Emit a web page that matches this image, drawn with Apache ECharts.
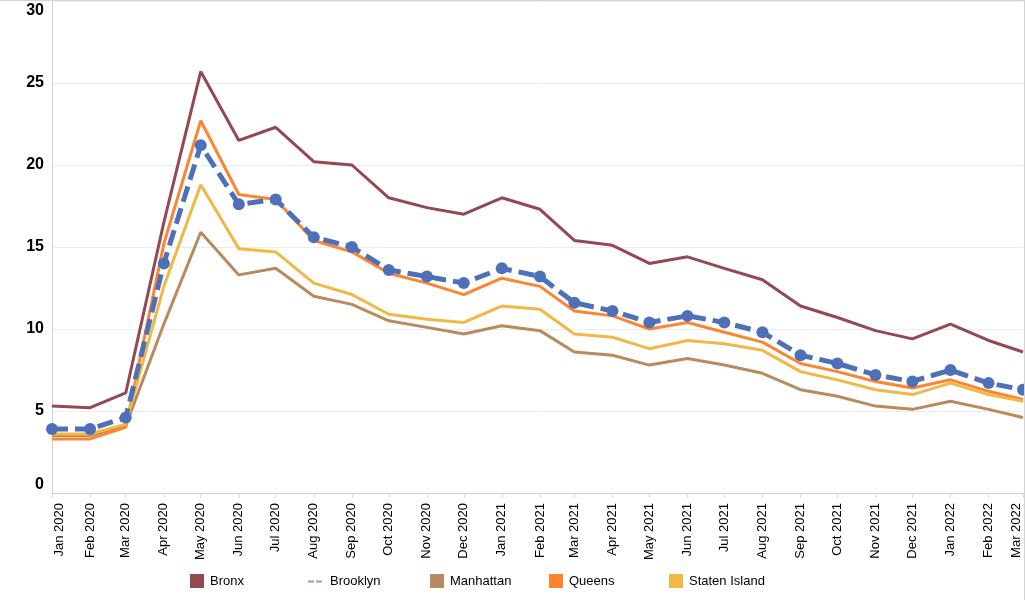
<!DOCTYPE html>
<html>
<head>
<meta charset="utf-8">
<script src="https://cdn.jsdelivr.net/npm/echarts@6/dist/echarts.min.js"></script>
<style>
html,body{margin:0;padding:0;background:#fff;}
#wrap{width:1024px;height:599px;border-top:1px solid #d4d4d4;border-right:1px solid #d4d4d4;}
#chart{width:1024px;height:599px;}
</style>
</head>
<body>
<div id="wrap"><div id="chart"></div></div>
<script>
const months = ['2020-01','2020-02','2020-03','2020-04','2020-05','2020-06','2020-07','2020-08','2020-09','2020-10','2020-11','2020-12',
  '2021-01','2021-02','2021-03','2021-04','2021-05','2021-06','2021-07','2021-08','2021-09','2021-10','2021-11','2021-12',
  '2022-01','2022-02','2022-03'];
const monthNames = ['Jan','Feb','Mar','Apr','May','Jun','Jul','Aug','Sep','Oct','Nov','Dec'];
const yTicks = [0, 5, 10, 15, 20, 25, 30];
const seriesNames = ['Bronx', 'Brooklyn', 'Manhattan', 'Queens', 'Staten Island'];

const bronx     = [5.3, 5.2, 6.1, 16.5, 25.7, 21.5, 22.3, 20.2, 20.0, 18.0, 17.4, 17.0, 18.0, 17.3, 15.4, 15.1, 14.0, 14.4, 13.7, 13.0, 11.4, 10.7, 9.9, 9.4, 10.3, 9.3, 8.6];
const brooklyn  = [3.9, 3.9, 4.6, 14.0, 21.2, 17.6, 17.9, 15.6, 15.0, 13.6, 13.2, 12.8, 13.7, 13.2, 11.6, 11.1, 10.4, 10.8, 10.4, 9.8, 8.4, 7.9, 7.2, 6.8, 7.5, 6.7, 6.3];
const manhattan = [3.5, 3.5, 4.1, 10.3, 15.9, 13.3, 13.7, 12.0, 11.5, 10.5, 10.1, 9.7, 10.2, 9.9, 8.6, 8.4, 7.8, 8.2, 7.8, 7.3, 6.3, 5.9, 5.3, 5.1, 5.6, 5.1, 4.6];
const queens    = [3.3, 3.3, 4.0, 15.2, 22.7, 18.2, 17.9, 15.4, 14.7, 13.4, 12.8, 12.1, 13.1, 12.6, 11.1, 10.8, 10.0, 10.4, 9.8, 9.2, 7.9, 7.4, 6.8, 6.4, 6.9, 6.2, 5.7];
const staten    = [3.6, 3.6, 4.2, 12.6, 18.8, 14.9, 14.7, 12.8, 12.1, 10.9, 10.6, 10.4, 11.4, 11.2, 9.7, 9.5, 8.8, 9.3, 9.1, 8.7, 7.4, 6.9, 6.3, 6.0, 6.7, 6.0, 5.6];

// x position of each month = days since the first month (a true time scale)
function utc(s){ const p = s.split('-').map(Number); return Date.UTC(p[0], p[1]-1, 1); }
const t0 = utc(months[0]);
const monthDays = months.map(s => Math.round((utc(s) - t0) / 86400000));
function dayLabel(v){
  const d = new Date(t0 + v * 86400000);
  return monthNames[d.getUTCMonth()] + ' ' + d.getUTCFullYear();
}
const pairs = arr => arr.map((v,i)=>[monthDays[i], v]);

const FONT = '"Liberation Sans", Arial, sans-serif';
const colors = {
  Bronx: '#934852',
  Brooklyn: '#4e70b8',
  Manhattan: '#b88b5f',
  Queens: '#fd8532',
  'Staten Island': '#f0b945'
};

function solid(name, arr, z){
  return {
    name, type: 'line', data: pairs(arr), z,
    showSymbol: false, symbol: 'none',
    lineStyle: {width: 3, color: colors[name]},
    itemStyle: {color: colors[name]}
  };
}

// one legend per entry so that each sits in an equal-width slot
const legendLefts = [190, 308, 430, 549, 669];
const legends = seriesNames.map((n, i) => {
  const isB = n === 'Brooklyn';
  return {
    left: legendLefts[i],
    top: isB ? 574 : 573,
    itemWidth: 14,
    itemHeight: 14,
    itemGap: 0,
    padding: 0,
    selectedMode: false,
    textStyle: {fontSize: 13, color: '#000', fontFamily: FONT, padding: [0, 0, 0, isB ? 3 : 1]},
    data: [isB
      ? {name: n, icon: 'path://M0,6h6v2h-6zM8,6h6v2h-6z', itemStyle: {color: '#8aa0d2'}}
      : {name: n, icon: 'rect'}]
  };
});

const chart = echarts.init(document.getElementById('chart'), null, {renderer: 'canvas'});
chart.setOption({
  animation: false,
  backgroundColor: '#fff',
  textStyle: {fontFamily: FONT},
  grid: {left: 52, right: 1, top: 0, bottom: 107, containLabel: false},
  xAxis: {
    type: 'value',
    min: monthDays[0],
    max: monthDays[monthDays.length-1],
    axisLine: {show: true, onZero: false, lineStyle: {color: '#cfcfcf', width: 1}},
    axisTick: {show: true, customValues: monthDays, length: 5, lineStyle: {color: '#dcdcdc'}},
    splitLine: {show: false},
    axisLabel: {
      customValues: monthDays,
      rotate: 90,
      fontSize: 13,
      color: '#000',
      fontFamily: FONT,
      margin: 10,
      hideOverlap: false,
      showMinLabel: true,
      showMaxLabel: true,
      formatter: function(val){
        const t = dayLabel(val);
        if (val === monthDays[0]) return '{first|' + t + '}';
        if (val === monthDays[monthDays.length-1]) return '{last|' + t + '}';
        return t;
      },
      rich: {
        first: {fontSize: 13, color: '#000', fontFamily: FONT, padding: [14, 0, 0, 0]},
        last: {fontSize: 13, color: '#000', fontFamily: FONT, padding: [0, 0, 14, 0]}
      }
    }
  },
  yAxis: {
    type: 'value',
    min: yTicks[0],
    max: yTicks[yTicks.length-1],
    interval: 5,
    axisLine: {show: true, lineStyle: {color: '#cfcfcf', width: 1}},
    axisTick: {show: false},
    splitLine: {show: true, lineStyle: {color: '#ececec', width: 1}},
    axisLabel: {
      fontSize: 16, fontWeight: 'bold', color: '#000', fontFamily: FONT, margin: 8,
      verticalAlignMinLabel: 'bottom',
      verticalAlignMaxLabel: 'top',
      padding: [2, 0, 0, 0]
    }
  },
  legend: legends,
  series: [
    solid('Bronx', bronx, 2),
    {
      name: 'Brooklyn', type: 'line', data: pairs(brooklyn), z: 6,
      symbol: 'circle', symbolSize: 12, showSymbol: true,
      lineStyle: {width: 5, type: [16, 7], color: colors.Brooklyn},
      itemStyle: {color: colors.Brooklyn}
    },
    solid('Manhattan', manhattan, 3),
    solid('Queens', queens, 4),
    solid('Staten Island', staten, 5)
  ]
});
</script>
</body>
</html>
